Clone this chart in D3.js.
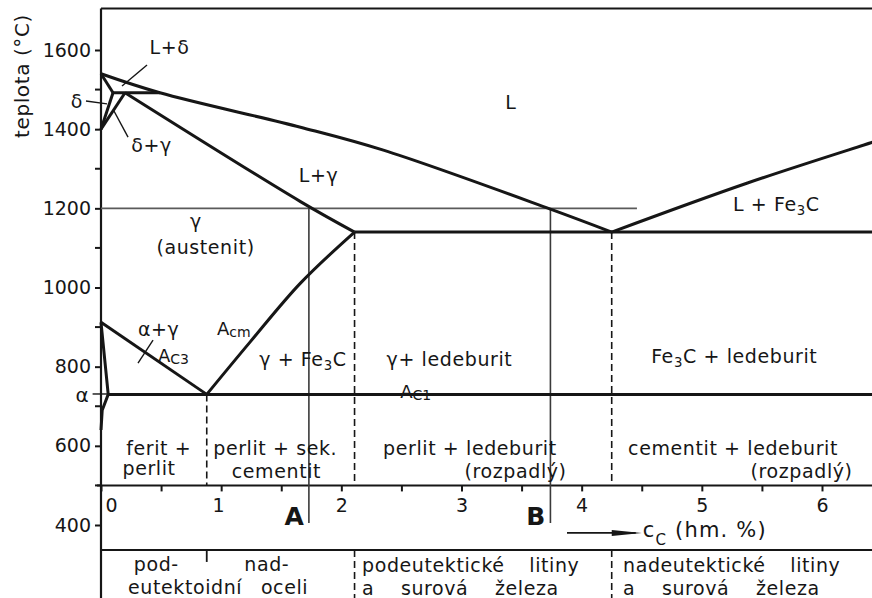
<!DOCTYPE html>
<html>
<head>
<meta charset="utf-8">
<script src="https://cdn.jsdelivr.net/npm/d3@7"></script>
<style>
  body { margin: 0; background: #fff; }
  text { font-family: "DejaVu Sans", sans-serif; fill: #161616; }
</style>
</head>
<body>
<svg width="872" height="598"></svg>
<script>
// phase boundaries, points are [carbon %, temperature °C]
const liquidus = [[0, 1540], [0.49, 1492], [1.66, 1405], [2.35, 1347], [3.74, 1198], [4.25, 1140]];
const liquidusFe3C = [[4.25, 1140], [5.38, 1264], [6.42, 1367], [6.5, 1375]];
const solidusDelta = [[0, 1540], [0.1, 1492]];
const deltaLeft = [[0.1, 1492], [0, 1400]];
const deltaRight = [[0.2, 1492], [0, 1400]];
const peritectic = [[0.1, 1492], [0.49, 1492]];
const solidusGamma = [[0.2, 1492], [1.66, 1217], [2.11, 1140]];
const eutectic = [[2.11, 1140], [6.5, 1140]];
const acmLine = [[0.88, 730], [1.24, 862], [1.66, 1011], [2.11, 1140]];
const ac3Line = [[0, 912], [0.88, 730]];
const alphaLine = [[0, 912], [0.06, 730], [0.01, 690], [0, 640]];
const eutectoid = [[0.06, 730], [6.5, 730]];

// dashed verticals (S, E, C points) down to the 500 °C axis
const dropLines = [[0.88, 730], [2.11, 1140], [4.25, 1140]];
const line1200 = [[0, 1200], [4.46, 1200]];
const alloyA = 1.73, alloyB = 3.74;

const yMajor = [400, 600, 800, 1000, 1200, 1400, 1600];
const yMinor = [500, 700, 900, 1100, 1300, 1500];
const xTicks = d3.range(0, 6.51, 0.5);

// region labels: [text, c, t]  (_{..} = subscript)
const regionLabels = [
  ["L+δ", 0.57, 1590],
  ["δ", -0.2, 1453],
  ["δ+γ", 0.42, 1342],
  ["L", 3.41, 1451],
  ["L+γ", 1.81, 1266],
  ["γ", 0.79, 1150],
  ["(austenit)", 0.87, 1085],
  ["α+γ", 0.48, 878],
  ["γ + Fe_{3}C", 1.68, 802],
  ["γ+ ledeburit", 2.9, 802],
  ["Fe_{3}C + ledeburit", 5.27, 809],
  ["L + Fe_{3}C", 5.62, 1193],
  ["ferit +", 0.48, 577],
  ["perlit", 0.4, 526],
  ["perlit + sek.", 1.45, 576],
  ["cementit", 1.46, 519],
  ["perlit + ledeburit", 3.07, 576],
  ["(rozpadlý)", 3.45, 518],
  ["cementit + ledeburit", 5.26, 576],
  ["(rozpadlý)", 5.83, 518]
];
const criticalLabels = [["A", "cm", 0.965, 880], ["A", "C3", 0.474, 812], ["A", "C1", 2.49, 721]];
const pointers = [
  [[0.383, 1562], [0.175, 1509]],
  [[-0.125, 1471], [0.05, 1464]],
  [[0.225, 1380], [0.108, 1446]],
  [[0.308, 809], [0.433, 867]],
  [[-0.07, 731], [0.06, 731]]
];
const groupRow1 = [["pod-", 0.46], ["nad-", 1.38]];
const groupRow2 = [["eutektoidní oceli", 0.225], ["podeutektické litiny", 2.172], ["nadeutektické litiny", 4.344]];
const groupRow3 = [["a surová železa", 2.172], ["a surová železa", 4.344]];

const ink = "#161616";
const svg = d3.select("svg");
const x = d3.scaleLinear().domain([0, 6]).range([101, 822]);
const y = d3.scaleLinear().domain([400, 1600]).range([525, 50]);
const line = d3.line().x(d => x(d[0])).y(d => y(d[1]));
const smooth = d3.line().x(d => x(d[0])).y(d => y(d[1])).curve(d3.curveCatmullRom);

function draw(pts, w, col, dash, gen) {
  svg.append("path")
    .attr("d", (gen || line)(pts))
    .attr("fill", "none")
    .attr("stroke", col || ink)
    .attr("stroke-width", w)
    .attr("stroke-dasharray", dash || null)
    .attr("stroke-linejoin", "round");
}

function rich(sel, s, size) {
  // split "Fe_{3}C" into normal and subscript parts
  const parts = s.split(/(_\{[^}]*\})/).filter(p => p);
  let shifted = false;
  parts.forEach(p => {
    if (p.startsWith("_{")) {
      sel.append("tspan").attr("font-size", size * 0.7).attr("dy", size * 0.22).text(p.slice(2, -1));
      shifted = true;
    } else {
      sel.append("tspan").attr("dy", shifted ? -size * 0.22 : 0).text(p);
      shifted = false;
    }
  });
}

// frame and axes
const frameTop = y(1705), axisY = y(500), tableY = y(337);
svg.append("line").attr("x1", x(0)).attr("x2", 872).attr("y1", frameTop).attr("y2", frameTop)
  .attr("stroke", ink).attr("stroke-width", 2);
svg.append("line").attr("x1", x(0)).attr("x2", x(0)).attr("y1", frameTop).attr("y2", 598)
  .attr("stroke", ink).attr("stroke-width", 2.2);
svg.append("line").attr("x1", x(0) - 4).attr("x2", 872).attr("y1", axisY).attr("y2", axisY)
  .attr("stroke", ink).attr("stroke-width", 2);
svg.append("line").attr("x1", x(0)).attr("x2", 872).attr("y1", tableY).attr("y2", tableY)
  .attr("stroke", ink).attr("stroke-width", 2);

const yAxis = svg.append("g").attr("transform", `translate(${x(0)},0)`)
  .call(d3.axisLeft(y).tickValues(yMajor).tickSize(6).tickPadding(4).tickFormat(d3.format("d")));
yAxis.select(".domain").remove();
yAxis.selectAll("line").attr("stroke", ink).attr("stroke-width", 2);
yAxis.selectAll("text").attr("font-size", 19).attr("font-family", "DejaVu Sans").attr("fill", ink);
svg.selectAll(".minor").data(yMinor).enter().append("line")
  .attr("x1", x(0) - 6).attr("x2", x(0)).attr("y1", d => y(d)).attr("y2", d => y(d))
  .attr("stroke", ink).attr("stroke-width", 2);

const xAxis = svg.append("g").attr("transform", `translate(0,${axisY})`)
  .call(d3.axisBottom(x).tickValues(xTicks).tickSize(6).tickPadding(7)
    .tickFormat(d => Number.isInteger(d) ? d : ""));
xAxis.select(".domain").remove();
xAxis.selectAll("line").attr("stroke", ink).attr("stroke-width", 2);
xAxis.selectAll("text").attr("font-size", 19).attr("font-family", "DejaVu Sans").attr("fill", ink)
  .attr("dx", d => d === 0 ? 10 : (d === 1 ? -3 : 0));

svg.append("text")
  .attr("transform", `translate(29,76) rotate(-90)`)
  .attr("text-anchor", "middle").attr("font-size", 20).attr("letter-spacing", 0.6)
  .text("teplota (°C)");

// thin construction lines
draw(line1200, 1.6, "#5a5a5a");
[alloyA, alloyB].forEach(c => draw([[c, 1200], [c, 405]], 1.6, "#3a3a3a"));

// dashed verticals
dropLines.forEach(d => draw([d, [d[0], 500]], 1.6, ink, "7,4"));
[2.11, 4.25].forEach(c => svg.append("line")
  .attr("x1", x(c)).attr("x2", x(c)).attr("y1", tableY).attr("y2", 598)
  .attr("stroke", ink).attr("stroke-width", 1.6).attr("stroke-dasharray", "7,4"));
svg.append("line").attr("x1", x(0.88)).attr("x2", x(0.88)).attr("y1", tableY).attr("y2", tableY + 12)
  .attr("stroke", ink).attr("stroke-width", 1.8);

// phase lines
[liquidus, liquidusFe3C, solidusGamma, acmLine].forEach(p => draw(p, 3, ink, null, smooth));
[solidusDelta, deltaLeft, deltaRight, peritectic, eutectic, ac3Line, alphaLine, eutectoid]
  .forEach(p => draw(p, 3));

pointers.forEach(p => draw(p, 1.4));

// labels
regionLabels.forEach(([s, c, t]) => {
  const el = svg.append("text").attr("x", x(c)).attr("y", y(t))
    .attr("text-anchor", "middle").attr("font-size", 19).attr("letter-spacing", 0.6);
  rich(el, s, 19);
});
svg.append("text").attr("x", x(-0.158)).attr("y", y(711)).attr("text-anchor", "middle")
  .attr("font-size", 20).text("α");

criticalLabels.forEach(([a, sub, c, t]) => {
  const el = svg.append("text").attr("x", x(c)).attr("y", y(t)).attr("font-size", 18);
  el.append("tspan").text(a);
  el.append("tspan").attr("font-size", 14).attr("dy", 2).text(sub);
});

// alloy markers
[["A", alloyA], ["B", alloyB]].forEach(([s, c]) => svg.append("text")
  .attr("x", x(c) - 5).attr("y", 525).attr("text-anchor", "end")
  .attr("font-family", "Liberation Sans, Arial, sans-serif").attr("font-weight", "bold")
  .attr("font-size", 25).text(s));

// concentration arrow
const arrowY = y(380);
svg.append("line").attr("x1", x(3.878)).attr("x2", x(4.45)).attr("y1", arrowY).attr("y2", arrowY)
  .attr("stroke", ink).attr("stroke-width", 1.6);
svg.append("path")
  .attr("d", `M${x(4.5)},${arrowY} L${x(4.5) - 30},${arrowY - 3} L${x(4.5) - 30},${arrowY + 3} Z`)
  .attr("fill", ink);
const cc = svg.append("text").attr("x", x(4.5) + 1).attr("y", arrowY + 4).attr("font-size", 21)
  .attr("letter-spacing", 1.2);
cc.append("tspan").text("c");
cc.append("tspan").attr("font-size", 15).attr("dy", 8).text("C");
cc.append("tspan").attr("dy", -8).text(" (hm. %)");

// bottom classification table
groupRow1.forEach(([s, c]) => svg.append("text").attr("x", x(c)).attr("y", 571)
  .attr("text-anchor", "middle").attr("font-size", 19).attr("letter-spacing", 0.6).text(s));
groupRow2.forEach(([s, c]) => svg.append("text").attr("x", x(c)).attr("y", c < 1 ? 594 : 572)
  .attr("font-size", 19).attr("letter-spacing", 0.6).attr("word-spacing", c < 1 ? 12 : 18).text(s));
groupRow3.forEach(([s, c]) => svg.append("text").attr("x", x(c)).attr("y", 595)
  .attr("font-size", 19).attr("letter-spacing", 0.6).attr("word-spacing", 20).text(s));
</script>
</body>
</html>
